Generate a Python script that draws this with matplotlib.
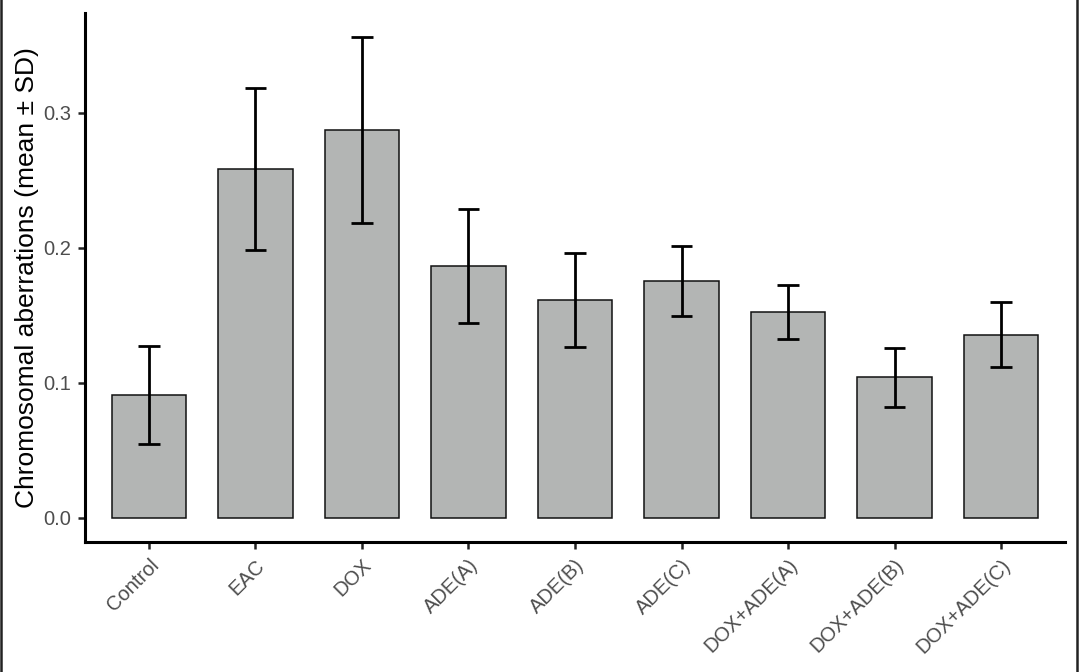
import matplotlib
matplotlib.use("Agg")
import matplotlib.pyplot as plt
from matplotlib.lines import Line2D
import numpy as np

categories = ["Control", "EAC", "DOX", "ADE(A)", "ADE(B)", "ADE(C)",
              "DOX+ADE(A)", "DOX+ADE(B)", "DOX+ADE(C)"]
means = [0.091, 0.258, 0.287, 0.1865, 0.1615, 0.1755, 0.1525, 0.104, 0.1358]
sds = [0.036, 0.060, 0.069, 0.042, 0.035, 0.026, 0.020, 0.022, 0.024]
yticks = [0.0, 0.1, 0.2, 0.3]
ytick_labels = ["0.0", "0.1", "0.2", "0.3"]
ylabel = "Chromosomal aberrations (mean \u00b1 SD)"

plt.rcParams['font.family'] = ['Liberation Sans', 'DejaVu Sans']

fig = plt.figure(figsize=(10.79, 6.72), dpi=100)
ax = fig.add_axes([85/1079, (672-542)/672, (1065-85)/1079, (542-13)/672])

x = np.arange(len(categories))
m = np.array(means)
s = np.array(sds)
ax.bar(x, m, width=0.7, color="#B3B5B4", edgecolor="#111111", linewidth=1.1, zorder=2)
ax.vlines(x, m - s, m + s, color="black", linewidth=2.0, zorder=3)
ax.hlines(m + s, x - 0.1, x + 0.1, color="black", linewidth=2.0, zorder=3)
ax.hlines(m - s, x - 0.1, x + 0.1, color="black", linewidth=2.0, zorder=3)

top = (m + s).max()
rng = top - 0.0
ax.set_ylim(0 - 0.05 * rng, top + 0.05 * rng)
ax.set_xlim(-0.6, len(categories) - 1 + 0.6)

ax.set_yticks(yticks)
ax.set_yticklabels(ytick_labels)
ax.set_xticks(x)
ax.set_xticklabels(categories, rotation=45, ha="right", va="top", rotation_mode="anchor")

for sp in ["top", "right"]:
    ax.spines[sp].set_visible(False)
for sp in ["left", "bottom"]:
    ax.spines[sp].set_linewidth(2.2)
    ax.spines[sp].set_color("black")

ax.tick_params(axis="both", which="major", length=5, width=1.8, color="#222222",
               labelcolor="#4D4D4D", labelsize=14.5, pad=5)
ax.set_ylabel(ylabel, fontsize=19, color="black", labelpad=3)

fig.add_artist(Line2D([0.001, 0.001], [0, 1], transform=fig.transFigure, color="#222222", linewidth=1.8))
fig.add_artist(Line2D([0.9985, 0.9985], [0, 1], transform=fig.transFigure, color="#222222", linewidth=1.8))

fig.savefig("out.png", dpi=100)
